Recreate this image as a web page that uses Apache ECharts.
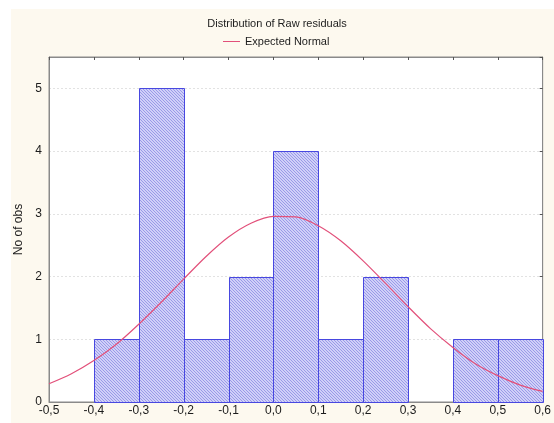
<!DOCTYPE html>
<html>
<head>
<meta charset="utf-8">
<script src="https://cdn.jsdelivr.net/npm/echarts@6/dist/echarts.min.js"></script>
<style>
  html, body { margin: 0; padding: 0; background: #ffffff; }
  #wrap { position: relative; width: 554px; height: 423px; overflow: hidden; }
  #panel { position: absolute; left: 11px; top: 9px; right: 0; bottom: 0; background: #fdf9ef; }
  #chart { position: absolute; left: 0; top: 0; width: 554px; height: 423px; }
</style>
</head>
<body>
<div id="wrap">
  <div id="panel"></div>
  <div id="chart"></div>
</div>
<script>
// Histogram of raw residuals: bin lower edges and counts (bin width 0.1)
const binStarts = [-0.4, -0.3, -0.2, -0.1, 0.0, 0.1, 0.2, 0.3, 0.4, 0.5];
const binCounts = [1, 5, 1, 2, 4, 1, 2, 0, 1, 1];
const binWidth = 0.1;

// Expected normal curve, sampled every 0.05
const curveX = [-0.5, -0.45, -0.4, -0.35, -0.3, -0.25, -0.2, -0.15, -0.1, -0.05,
                0.0, 0.05, 0.1, 0.15, 0.2, 0.25, 0.3, 0.35, 0.4, 0.45, 0.5, 0.55, 0.6];
const curveY = [0.29, 0.45, 0.66, 0.92, 1.24, 1.59, 1.96, 2.32, 2.63, 2.85,
                2.96, 2.95, 2.81, 2.57, 2.25, 1.89, 1.52, 1.17, 0.87, 0.61, 0.42, 0.27, 0.17];

const xTicks = { min: -0.5, max: 0.6, step: 0.1 };
const yTicks = { min: 0, max: 5.5, step: 1 };

// Diagonal hatch tile for the bars
function hatchTile() {
  const c = document.createElement('canvas');
  c.width = 3; c.height = 3;
  const g = c.getContext('2d');
  g.fillStyle = '#d0d0f8';
  g.fillRect(0, 0, 3, 3);
  g.fillStyle = '#9a9ae8';
  for (let i = 0; i < 3; i++) g.fillRect(i, i, 1, 1);
  return c;
}
const hatch = { image: hatchTile(), repeat: 'repeat' };

const fontFam = '"Liberation Sans", Arial, sans-serif';
const txt = '#1c1c1c';
const frame = '#8a8a8a';

const commaFmt = v => (Math.round(v * 10) / 10).toFixed(1).replace('.', ',');

const chart = echarts.init(document.getElementById('chart'), null, { renderer: 'canvas' });
chart.setOption({
  backgroundColor: 'transparent',
  animation: false,
  textStyle: { fontFamily: fontFam },
  title: {
    text: 'Distribution of Raw residuals',
    left: 'center',
    top: 13,
    textStyle: { fontSize: 11, fontWeight: 'normal', color: txt, fontFamily: fontFam }
  },
  legend: {
    data: [{ name: 'Expected Normal', icon: 'rect' }],
    top: 31,
    left: 218,
    itemWidth: 17,
    itemHeight: 1,
    itemGap: 6,
    textStyle: { fontSize: 11, color: txt, fontFamily: fontFam }
  },
  grid: {
    left: 49, right: 5, top: 57, bottom: 21,
    show: true, backgroundColor: '#ffffff', borderColor: frame, borderWidth: 1
  },
  xAxis: [{
    type: 'value',
    min: xTicks.min, max: xTicks.max, interval: xTicks.step,
    position: 'bottom',
    axisLine: { show: true, onZero: false, lineStyle: { color: frame } },
    axisTick: { show: false },
    splitLine: { show: false },
    axisLabel: { color: txt, fontSize: 12, margin: 3, formatter: commaFmt, fontFamily: fontFam }
  }, {
    type: 'value',
    min: xTicks.min, max: xTicks.max, interval: xTicks.step,
    position: 'top',
    axisLine: { show: true, onZero: false, lineStyle: { color: frame } },
    axisTick: { show: true, inside: true, length: 3, lineStyle: { color: '#555' } },
    splitLine: { show: false },
    axisLabel: { show: false }
  }],
  yAxis: [{
    type: 'value',
    min: yTicks.min, max: yTicks.max, interval: yTicks.step,
    position: 'left',
    name: 'No of obs',
    nameLocation: 'middle',
    nameGap: 22,
    nameTextStyle: { fontSize: 12, color: txt, fontFamily: fontFam },
    axisLine: { show: true, onZero: false, lineStyle: { color: frame } },
    axisTick: { show: false },
    splitLine: { show: true, lineStyle: { color: '#e2e2e2', type: [2, 2] } },
    axisLabel: {
      color: txt, fontSize: 12, margin: 7, fontFamily: fontFam,
      formatter: v => (Number.isInteger(v) ? String(v) : '')
    }
  }, {
    type: 'value',
    min: yTicks.min, max: yTicks.max, interval: yTicks.step,
    position: 'right',
    axisLine: { show: true, onZero: false, lineStyle: { color: frame } },
    axisTick: { show: true, inside: true, length: 3, lineStyle: { color: '#555' } },
    splitLine: { show: false },
    axisLabel: { show: false }
  }],
  series: [{
    type: 'custom',
    name: 'Histogram',
    xAxisIndex: 0,
    yAxisIndex: 0,
    data: binStarts.map((s, i) => [s, s + binWidth, binCounts[i]]),
    encode: { x: [0, 1], y: 2 },
    renderItem: function (params, api) {
      const h = api.value(2);
      if (!h) return null;
      const p0 = api.coord([api.value(0), h]);
      const p1 = api.coord([api.value(1), 0]);
      return {
        type: 'rect',
        shape: { x: Math.round(p0[0]) + 0.5, y: Math.round(p0[1]) + 0.5,
                 width: Math.round(p1[0]) - Math.round(p0[0]),
                 height: Math.round(p1[1]) - Math.round(p0[1]) },
        style: { fill: hatch, stroke: '#4848e0', lineWidth: 1 }
      };
    },
    z: 2
  }, {
    type: 'line',
    name: 'Expected Normal',
    xAxisIndex: 0,
    yAxisIndex: 0,
    data: curveX.map((x, i) => [x, curveY[i]]),
    smooth: 0.3,
    showSymbol: false,
    symbol: 'none',
    lineStyle: { color: '#e2507a', width: 1.2 },
    itemStyle: { color: '#e2507a' },
    z: 3
  }]
});
</script>
</body>
</html>
